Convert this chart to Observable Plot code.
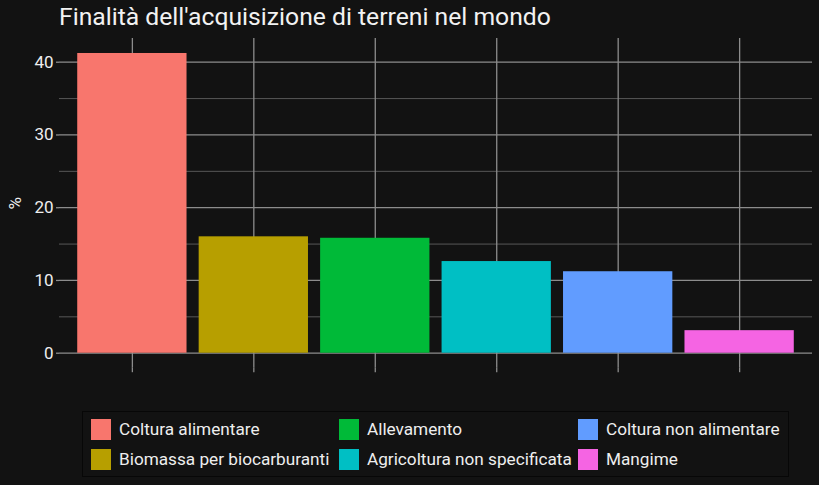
<!DOCTYPE html>
<html>
<head>
<meta charset="utf-8">
<script src="https://cdn.jsdelivr.net/npm/d3@7"></script>
<script src="https://cdn.jsdelivr.net/npm/@observablehq/plot@0.6"></script>
<style>
  html, body { margin: 0; padding: 0; background: #121212; }
  #wrap { position: relative; width: 819px; height: 485px; background: #121212; overflow: hidden; font-family: Roboto, "Noto Sans", sans-serif; }
  #title { position: absolute; left: 59px; top: 2px; color: #f2f2f2; font-size: 24.7px; white-space: nowrap; }
  #chart { position: absolute; left: 0; top: 38px; }
  #legend { position: absolute; left: 82px; top: 411px; width: 707px; height: 66px; border: 1px solid #070707; box-sizing: border-box;
            display: grid; grid-template-columns: 248px 239px auto; grid-template-rows: 30px 30px; grid-auto-flow: column; padding: 7px 0 0 8px; }
  .item { display: flex; align-items: flex-start; color: #eeeeee; font-size: 17.2px; }
  .key { width: 20px; height: 21px; margin-right: 8px; flex: none; }
  .lab { line-height: 21px; white-space: nowrap; }
</style>
</head>
<body>
<div id="wrap">
  <div id="title"></div>
  <div id="chart"></div>
  <div id="legend"></div>
</div>
<script>
const titleText = "Finalità dell'acquisizione di terreni nel mondo";
const yLabel = "%";
const categories = ["Coltura alimentare", "Biomassa per biocarburanti", "Allevamento", "Agricoltura non specificata", "Coltura non alimentare", "Mangime"];
const values = [41.2, 16.0, 15.8, 12.6, 11.2, 3.1];
const colors = ["#F8766D", "#B79F00", "#00BA38", "#00BFC4", "#619CFF", "#F564E3"];
const majorTicks = [0, 10, 20, 30, 40];
const minorTicks = [5, 15, 25, 35];

const data = categories.map((c, i) => ({cat: c, val: values[i]}));

document.getElementById("title").textContent = titleText;

const maxV = d3.max(values);
const pad = maxV * 0.05;

const plot = Plot.plot({
  width: 819,
  height: 340,
  marginTop: 0,
  marginBottom: 10.3,
  marginLeft: 59,
  marginRight: 7,
  style: {background: "#121212", color: "#eeeeee", fontFamily: "Roboto, 'Noto Sans', sans-serif", fontSize: "17px", overflow: "visible"},
  x: {domain: categories, paddingInner: 0.1, paddingOuter: 0.15, align: 0.5, round: false},
  y: {domain: [-pad, maxV + pad]},
  color: {domain: categories, range: colors},
  marks: [
    Plot.gridY({ticks: minorTicks, stroke: "#6a6a6a", strokeOpacity: 1, strokeWidth: 0.8}),
    Plot.gridY({ticks: majorTicks, stroke: "#8c8c8c", strokeOpacity: 1, strokeWidth: 1.3}),
    Plot.gridX({stroke: "#8c8c8c", strokeOpacity: 1, strokeWidth: 1.3}),
    Plot.axisX({tickSize: 4.5, tickFormat: () => "", stroke: "#8c8c8c", strokeWidth: 1.3, label: null}),
    Plot.axisY({ticks: majorTicks, tickSize: 3, tickPadding: 3, stroke: "#8c8c8c", strokeWidth: 1.3, fill: "#eeeeee",
                label: yLabel, labelAnchor: "center", labelArrow: "none", labelOffset: 51}),
    Plot.barY(data, {x: "cat", y: "val", fill: "cat"})
  ]
});
document.getElementById("chart").appendChild(plot);

const legend = d3.select("#legend");
categories.forEach((c, i) => {
  const it = legend.append("div").attr("class", "item");
  it.append("div").attr("class", "key").style("background", colors[i]);
  it.append("div").attr("class", "lab").text(c);
});
</script>
</body>
</html>
